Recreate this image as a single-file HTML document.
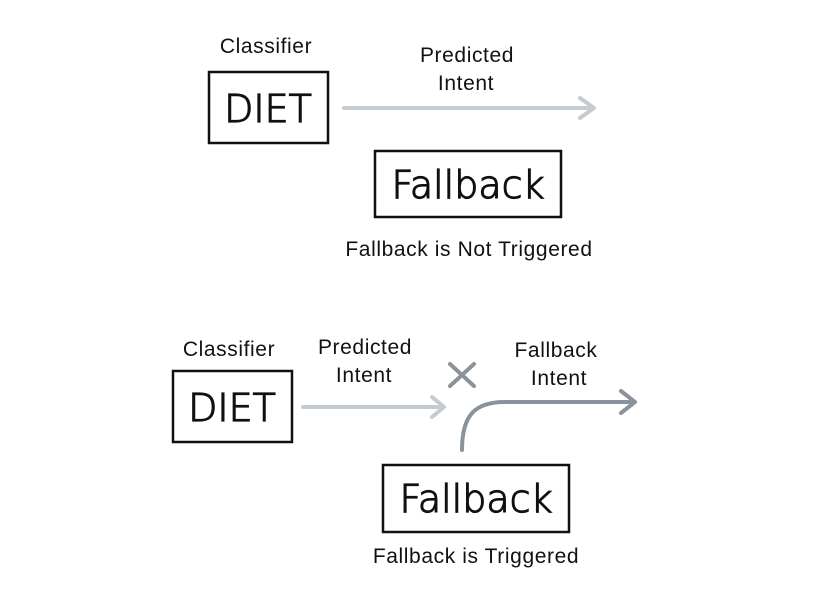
<!DOCTYPE html>
<html><head><style>html,body{margin:0;padding:0;background:#fff;}</style></head>
<body>
<svg width="836" height="598" viewBox="0 0 836 598" xmlns="http://www.w3.org/2000/svg" font-family="Liberation Sans, sans-serif">
<rect width="836" height="598" fill="#fff"/>
<g font-size="21" fill="#111" text-anchor="middle" letter-spacing="0.6">
<text x="266" y="53">Classifier</text>
<text x="467" y="62">Predicted</text>
<text x="466" y="90">Intent</text>
<text x="469" y="256">Fallback is Not Triggered</text>
<text x="229" y="356">Classifier</text>
<text x="365" y="354">Predicted</text>
<text x="364" y="382">Intent</text>
<text x="556" y="357">Fallback</text>
<text x="559" y="385">Intent</text>
<text x="476" y="563">Fallback is Triggered</text>
</g>
<g fill="none" stroke="#111" stroke-width="2.5">
<rect x="209" y="72" width="119" height="71"/>
<rect x="375" y="151" width="186" height="66"/>
<rect x="173" y="371" width="119" height="71"/>
<rect x="383" y="465" width="186" height="67"/>
</g>
<g font-size="38" fill="#111" stroke="#111" stroke-width="1.2" text-anchor="middle" font-family="DejaVu Sans, sans-serif" font-weight="300">
<text x="268" y="122">DIET</text>
<text x="468" y="198">Fallback</text>
<text x="232" y="421">DIET</text>
<text x="476" y="512">Fallback</text>
</g>
<g fill="none" stroke="#c5ccd1" stroke-width="4" stroke-linecap="round" stroke-linejoin="round">
<path d="M344 108 L592 108"/><path d="M580 98 L594 108 L580 118"/>
<path d="M303 407 L442 407"/><path d="M432 397 L444 407 L432 417"/>
</g>
<g fill="none" stroke="#8a939b" stroke-width="4" stroke-linecap="round" stroke-linejoin="round">
<path d="M450 364 L474 386 M474 364 L450 386"/>
<path d="M462 450 C462 415 475 402 505 402 L633 402"/><path d="M621 391 L635 402 L621 413"/>
</g>
</svg>
</body></html>
